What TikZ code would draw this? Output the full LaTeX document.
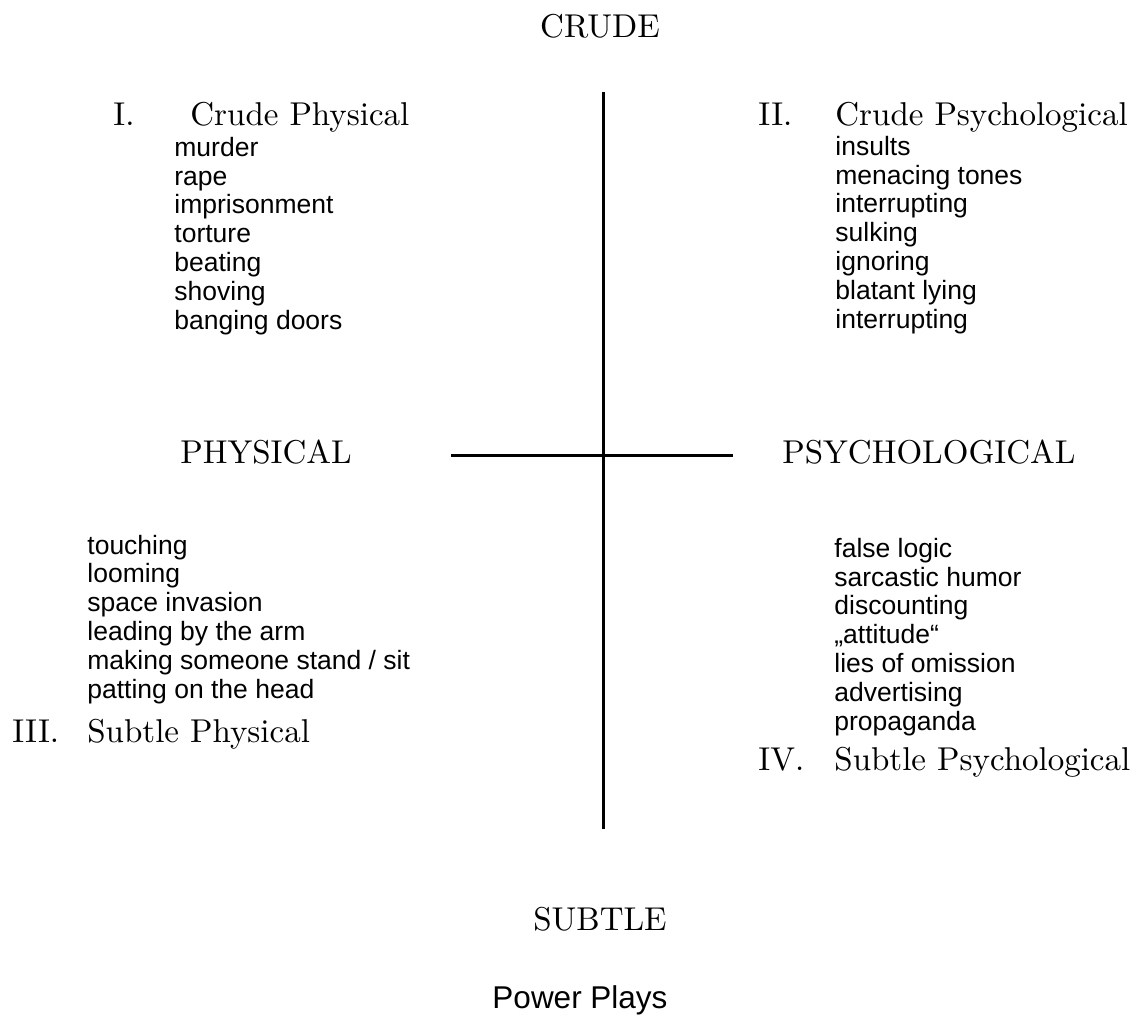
\documentclass[tikz,border=0pt]{standalone}
\usepackage{fontspec}
\newfontfamily\headfont{lmroman10-regular}[Extension=.otf]
\newfontfamily\listfont{Liberation Sans}
\newcommand{\headsize}{\fontsize{16.5}{18}\selectfont}

\tikzset{
  head/.style={font=\headfont\headsize, inner sep=0pt},
  item/.style={font=\listfont\fontsize{13.25}{14.4}\selectfont, align=left, inner sep=0pt},
  axisline/.style={line width=1.5pt}
}

\begin{document}
\begin{tikzpicture}[x=0.5pt,y=-0.5pt]
            \useasboundingbox (0,0) rectangle (1144,1014);
            % axis labels
            \node[head,anchor=base](crude) at (600,37) {CRUDE};
            \node[head,anchor=base](subtle) at (600,930) {SUBTLE};
            \node[head,anchor=base west](phys) at (180,463) {PHYSICAL};
            \node[head,anchor=base west](psych) at (782,463) {PSYCHOLOGICAL};

            % the cross
            \coordinate(top) at (603,92);
            \coordinate(bot) at (603,829);
            \coordinate(lft) at (451,455);
            \coordinate(rgt) at (733,455);
            \draw[axisline] (top) -- (bot);
            \draw[axisline] (lft) -- (rgt);

            % I. crude physical (lists sit on their last line)
            \node[head,anchor=base west](n1) at (113,125) {I.};
            \node[head,anchor=base west](t1) at (190,125) {Crude Physical};
            \node[item,anchor=base west](l1) at (174,329) {murder\\rape\\imprisonment\\torture\\beating\\shoving\\banging doors};

            % II. crude psychological
            \node[head,anchor=base west](n2) at (758,125) {II.};
            \node[head,anchor=base west](t2) at (835,125) {Crude Psychological};
            \node[item,anchor=base west](l2) at (835,328) {insults\\menacing tones\\interrupting\\sulking\\ignoring\\blatant lying\\interrupting};

            % III. subtle physical
            \node[item,anchor=base west](l3) at (87,698) {touching\\looming\\space invasion\\leading by the arm\\making someone stand / sit\\patting on the head};
            \node[head,anchor=base west](n3) at (12,742) {III.};
            \node[head,anchor=base west](t3) at (87,742) {Subtle Physical};

            % IV. subtle psychological
            \node[item,anchor=base west](l4) at (834,730) {false logic\\sarcastic humor\\discounting\\„attitude“\\lies of omission\\advertising\\propaganda};
            \node[head,anchor=base west](n4) at (758,770) {IV.};
            \node[head,anchor=base west](t4) at (834,770) {Subtle Psychological};

            \node[font=\listfont\fontsize{15.75}{18}\selectfont,inner sep=0pt,anchor=base](title) at (580,1008) {Power Plays};
\end{tikzpicture}
\end{document}
